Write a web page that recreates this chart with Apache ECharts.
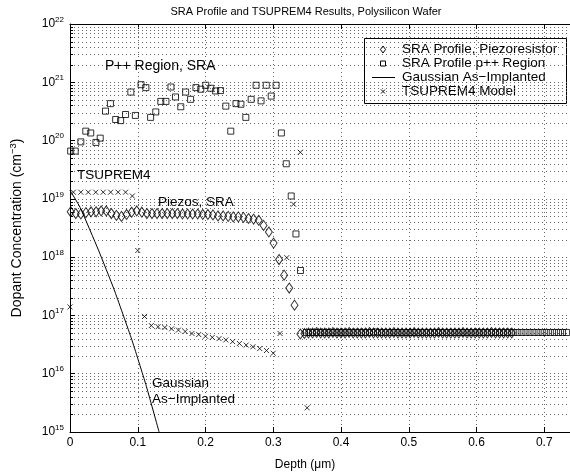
<!DOCTYPE html>
<html>
<head>
<meta charset="utf-8">
<script src="https://cdn.jsdelivr.net/npm/echarts@6/dist/echarts.min.js"></script>
<style>
  html, body { margin: 0; padding: 0; background: #fff; }
  #chart { width: 570px; height: 475px; }
</style>
</head>
<body>
<div id="chart"></div>
<script>
// SRA profile, piezoresistor (diamonds)
const piezoDepth = [0.001, 0.0085, 0.016, 0.0235, 0.031, 0.0385, 0.046, 0.0535, 0.061, 0.0685,
  0.076, 0.0835, 0.091, 0.0985, 0.106, 0.1135, 0.121, 0.1285, 0.136, 0.1435,
  0.151, 0.1585, 0.166, 0.1735, 0.181, 0.1885, 0.196, 0.2035, 0.211, 0.2185,
  0.226, 0.2335, 0.241, 0.2485, 0.256, 0.2635, 0.271, 0.2785,
  0.2857, 0.2935, 0.3005, 0.3086, 0.316, 0.3236, 0.3314]
const piezoConc = [6.0e18, 5.6e18, 5.5e18, 5.8e18, 6.0e18, 6.0e18, 6.2e18, 6.2e18, 5.6e18, 5.2e18,
  5.0e18, 5.4e18, 5.9e18, 6.2e18, 5.9e18, 5.6e18, 5.6e18, 5.6e18, 5.6e18, 5.6e18,
  5.6e18, 5.6e18, 5.5e18, 5.5e18, 5.5e18, 5.5e18, 5.4e18, 5.4e18, 5.3e18, 5.1e18,
  5.1e18, 5.0e18, 4.9e18, 4.9e18, 4.8e18, 4.6e18, 4.5e18, 4.3e18,
  3.5e18, 2.7e18, 1.74e18, 9.1e17, 4.9e17, 2.95e17, 1.5e17]
const piezoFlatDepth = [0.340, 0.346, 0.352, 0.358, 0.364, 0.370, 0.376, 0.382, 0.388, 0.394,
  0.400, 0.406, 0.412, 0.418, 0.424, 0.430, 0.436, 0.442, 0.448, 0.454,
  0.460, 0.466, 0.472, 0.478, 0.484, 0.490, 0.496, 0.502, 0.508, 0.514,
  0.520, 0.526, 0.532, 0.538, 0.544, 0.550, 0.556, 0.562, 0.568, 0.574,
  0.580, 0.586, 0.592, 0.598, 0.604, 0.610, 0.616, 0.622, 0.628, 0.634,
  0.640, 0.646, 0.652]
const piezoFlatConc = [4.8e16, 4.9e16, 5.0e16, 5.0e16, 5.1e16, 5.0e16, 5.0e16, 5.0e16, 5.1e16, 5.0e16,
  5.0e16, 5.0e16, 5.1e16, 5.0e16, 5.0e16, 5.0e16, 5.0e16, 5.1e16, 5.0e16, 5.0e16,
  5.0e16, 5.0e16, 5.0e16, 5.1e16, 5.0e16, 5.0e16, 5.0e16, 5.0e16, 5.1e16, 5.0e16,
  5.0e16, 5.0e16, 5.0e16, 5.0e16, 5.1e16, 5.0e16, 5.0e16, 5.0e16, 5.0e16, 5.0e16,
  5.1e16, 5.0e16, 5.0e16, 5.0e16, 5.0e16, 5.0e16, 5.0e16, 5.1e16, 5.0e16, 5.0e16,
  5.0e16, 5.0e16, 5.0e16]

// SRA profile, p++ region (squares)
const sqDepth = [0.001, 0.0077, 0.016, 0.0233, 0.0306, 0.0383, 0.0446, 0.0524, 0.0597, 0.0674,
  0.0747, 0.082, 0.0898, 0.0965, 0.1048, 0.112, 0.119, 0.1266, 0.134, 0.1416,
  0.149, 0.1557, 0.1635, 0.1707, 0.178, 0.1859, 0.193, 0.2004, 0.2077, 0.215,
  0.2222, 0.23, 0.2373, 0.245, 0.2523, 0.2595, 0.2674, 0.2747, 0.282, 0.2897,
  0.297, 0.3042, 0.312, 0.3192, 0.3265, 0.3335, 0.3402]
const sqConc = [6.6e19, 6.6e19, 9.5e19, 1.45e20, 1.35e20, 9.3e19, 1.1e20, 3.2e20, 4.3e20, 2.3e20,
  2.2e20, 2.8e20, 6.8e20, 2.7e20, 9.1e20, 8.1e20, 2.5e20, 3.1e20, 4.7e20, 4.7e20,
  8.3e20, 5.6e20, 3.8e20, 6.8e20, 5.1e20, 8.1e20, 7.6e20, 8.9e20, 7.9e20, 7.1e20,
  7.2e20, 3.9e20, 1.45e20, 4.3e20, 4.2e20, 2.5e20, 5.1e20, 8.9e20, 4.8e20, 8.9e20,
  5.8e20, 8.9e20, 1.35e20, 4.0e19, 1.12e19, 2.5e18, 5.9e17]
const sqFlatDepth = [0.349, 0.355, 0.361, 0.367, 0.373, 0.379, 0.385, 0.391, 0.397, 0.403,
  0.409, 0.415, 0.421, 0.427, 0.433, 0.439, 0.445, 0.451, 0.457, 0.463,
  0.469, 0.475, 0.481, 0.487, 0.493, 0.499, 0.505, 0.511, 0.517, 0.523,
  0.529, 0.535, 0.541, 0.547, 0.553, 0.559, 0.565, 0.571, 0.577, 0.583,
  0.589, 0.595, 0.601, 0.607, 0.613, 0.619, 0.625, 0.631, 0.637, 0.643,
  0.649, 0.655, 0.661, 0.667, 0.673, 0.679, 0.685, 0.691, 0.697, 0.703,
  0.709, 0.715, 0.721, 0.727, 0.733]
const sqFlatConc = [5.1e16, 5.1e16, 5.1e16, 5.1e16, 5.1e16, 5.1e16, 5.1e16, 5.1e16, 5.1e16, 5.1e16,
  5.1e16, 5.1e16, 5.1e16, 5.1e16, 5.1e16, 5.1e16, 5.1e16, 5.2e16, 5.1e16, 5.1e16,
  5.1e16, 5.1e16, 5.1e16, 5.1e16, 5.1e16, 5.1e16, 5.1e16, 5.1e16, 5.1e16, 5.1e16,
  5.1e16, 5.1e16, 5.1e16, 5.1e16, 5.1e16, 5.1e16, 5.1e16, 5.1e16, 5.1e16, 5.1e16,
  5.1e16, 5.1e16, 5.1e16, 5.1e16, 5.1e16, 5.1e16, 5.1e16, 5.1e16, 5.1e16, 5.1e16,
  5.1e16, 5.1e16, 5.1e16, 5.1e16, 5.1e16, 5.1e16, 5.1e16, 5.1e16, 5.1e16, 5.1e16,
  5.1e16, 5.1e16, 5.1e16, 5.1e16, 5.1e16]

// Gaussian as-implanted profile (line)
const gaussDepth = [0, 0.015, 0.042, 0.065, 0.091, 0.112, 0.1315]
const gaussConc = [1.4e19, 7.1e18, 1.32e18, 2.8e17, 3.9e16, 6.5e15, 1.0e15]

// TSUPREM4 model (x marks)
const tsDepth = [0, 0.005, 0.016, 0.027, 0.038, 0.049, 0.06, 0.071, 0.082, 0.092,
  0.10, 0.11, 0.12, 0.13, 0.14, 0.15, 0.16, 0.17, 0.18, 0.19,
  0.20, 0.21, 0.22, 0.23, 0.24, 0.25, 0.26, 0.27, 0.28, 0.29,
  0.30, 0.31, 0.32, 0.33, 0.34, 0.35]
const tsConc = [1.4e17, 1.3e19, 1.3e19, 1.3e19, 1.3e19, 1.3e19, 1.3e19, 1.3e19, 1.3e19, 1.12e19,
  1.3e18, 9.6e16, 6.7e16, 6.4e16, 6.2e16, 5.9e16, 5.6e16, 5.3e16, 4.9e16, 4.7e16,
  4.4e16, 4.2e16, 4.0e16, 3.8e16, 3.55e16, 3.3e16, 3.1e16, 2.9e16, 2.7e16, 2.5e16,
  2.25e16, 4.9e16, 9.8e17, 8.1e18, 6.3e19, 2.6e15]

const legendNames = ['SRA Profile, Piezoresistor', 'SRA Profile p++ Region', 'Gaussian As\u2212Implanted', 'TSUPREM4 Model']

const xMax = 0.738
const yMin = 1e15
const yMax = 1e22
const fontFam = '"Liberation Sans", Arial, Helvetica, sans-serif'

function pairs (xs, ys) {
  return xs.map((x, i) => [x, ys[i]])
}

// minor log grid values (2..9 per decade)
const minorVals = []
for (let e = 15; e < 22; e++) {
  for (let m = 2; m <= 9; m++) minorVals.push([0, m * Math.pow(10, e)])
}

// legend drawn as a MATLAB style box
function legendGraphic () {
  const bx = 364.5
  const by = 38.5
  const rowY = [49.5, 63.5, 77.5, 91.5]
  const cx = 383
  const kids = [
    { type: 'rect', shape: { x: bx, y: by, width: 202, height: 65 }, style: { fill: '#fff', stroke: '#000', lineWidth: 1 } },
    { type: 'polygon', shape: { points: [[cx, rowY[0] - 3.5], [cx + 2.6, rowY[0]], [cx, rowY[0] + 3.5], [cx - 2.6, rowY[0]]] }, style: { fill: 'none', stroke: '#000', lineWidth: 1 } },
    { type: 'rect', shape: { x: cx - 2.5, y: rowY[1] - 2.5, width: 5, height: 5 }, style: { fill: 'none', stroke: '#000', lineWidth: 1 } },
    { type: 'line', shape: { x1: 372, y1: rowY[2], x2: 395, y2: rowY[2] }, style: { stroke: '#000', lineWidth: 1 } },
    { type: 'line', shape: { x1: cx - 2, y1: rowY[3] - 2, x2: cx + 2, y2: rowY[3] + 2 }, style: { stroke: '#000', lineWidth: 1 } },
    { type: 'line', shape: { x1: cx + 2, y1: rowY[3] - 2, x2: cx - 2, y2: rowY[3] + 2 }, style: { stroke: '#000', lineWidth: 1 } }
  ]
  legendNames.forEach((n, i) => {
    kids.push({ type: 'text', x: 402, y: rowY[i], style: { text: n, font: '13.5px ' + fontFam, fill: '#000', verticalAlign: 'middle' } })
  })
  return { type: 'group', z: 100, children: kids }
}

function note (text, x, y, size) {
  return { type: 'text', x: x, y: y, z: 10, style: { text: text, font: (size || 13.5) + 'px ' + fontFam, fill: '#000', verticalAlign: 'middle' } }
}

const chart = echarts.init(document.getElementById('chart'), null, { renderer: 'canvas' })

const crossPath = 'path://M0,0L10,10M10,0L0,10'

chart.setOption({
  animation: false,
  backgroundColor: '#fff',
  textStyle: { fontFamily: fontFam, color: '#000' },
  grid: { left: 63, right: 0, top: 24, bottom: 43 },
  xAxis: [{
    type: 'value',
    min: 0,
    max: xMax,
    interval: 0.1,
    axisLine: { lineStyle: { color: '#000', width: 1 } },
    axisTick: { inside: true, length: 5, lineStyle: { color: '#000' } },
    axisLabel: {
      showMaxLabel: false,
      fontSize: 12,
      color: '#000',
      margin: 5,
      fontFamily: fontFam,
      formatter: v => (v === 0 ? '0' : v.toFixed(1))
    },
    splitLine: { show: true, lineStyle: { color: '#666', type: [1, 3], width: 1 } }
  }, {
    type: 'value',
    position: 'top',
    min: 0,
    max: xMax,
    interval: 0.1,
    axisLine: { lineStyle: { color: '#000', width: 1 } },
    axisTick: { inside: true, length: 5, lineStyle: { color: '#000' } },
    axisLabel: { show: false },
    splitLine: { show: false }
  }],
  yAxis: {
    type: 'log',
    logBase: 10,
    min: yMin,
    max: yMax,
    splitNumber: 7,
    name: 'Dopant Concentration (cm{sup|\u22123})',
    nameLocation: 'middle',
    nameGap: 44,
    nameTextStyle: {
      fontFamily: fontFam,
      fontSize: 14,
      color: '#000',
      rich: { sup: { fontSize: 9.5, padding: [0, 0, 8, 0], fontFamily: fontFam } }
    },
    axisLine: { show: true, lineStyle: { color: '#000', width: 1 } },
    axisTick: { inside: true, length: 5, lineStyle: { color: '#000' } },
    axisLabel: {
      color: '#000',
      margin: 6,
      formatter: v => '{b|10}{s|' + Math.round(Math.log10(v)) + '}',
      rich: {
        b: { fontSize: 12, fontFamily: fontFam, color: '#000' },
        s: { fontSize: 8, fontFamily: fontFam, color: '#000', padding: [0, 0, 9, 0] }
      }
    },
    splitLine: { show: true, lineStyle: { color: '#666', type: [1, 3], width: 1 } }
  },
  graphic: [
    { type: 'text', x: 306, y: 12, style: { text: 'SRA Profile and TSUPREM4 Results, Polysilicon Wafer', font: '11px ' + fontFam, fill: '#000', align: 'center', verticalAlign: 'middle' } },
    { type: 'text', x: 305, y: 465, style: { text: 'Depth (\u03bcm)', font: '12px ' + fontFam, fill: '#000', align: 'center', verticalAlign: 'middle' } },
    note('P++ Region, SRA', 105, 66, 14),
    note('TSUPREM4', 77, 175, 13.5),
    note('Piezos, SRA', 158, 202, 13.5),
    note('Gaussian', 152, 383, 13.5),
    note('As\u2212Implanted', 152, 399, 13.5),
    legendGraphic()
  ],
  series: [
    {
      name: 'minorGrid',
      type: 'custom',
      silent: true,
      z: 1,
      data: minorVals,
      encode: { x: 0, y: 1 },
      renderItem: function (params, api) {
        const cs = params.coordSys
        const p = api.coord([0, api.value(1)])
        const y = Math.round(p[1]) + 0.5
        return {
          type: 'group',
          children: [
            { type: 'line', shape: { x1: cs.x, y1: y, x2: cs.x + cs.width, y2: y }, style: { stroke: '#666', lineWidth: 1, lineDash: [1, 3] } },
            { type: 'line', shape: { x1: cs.x, y1: y, x2: cs.x + 3, y2: y }, style: { stroke: '#000', lineWidth: 1 } }
          ]
        }
      }
    },
    {
      name: legendNames[0],
      type: 'scatter',
      z: 5,
      symbol: 'diamond',
      symbolSize: [7, 10],
      symbolKeepAspect: false,
      itemStyle: { color: 'transparent', borderColor: '#000', borderWidth: 1 },
      data: pairs(piezoDepth, piezoConc).concat(pairs(piezoFlatDepth, piezoFlatConc))
    },
    {
      name: legendNames[1],
      type: 'scatter',
      z: 5,
      symbol: 'rect',
      symbolSize: 6,
      itemStyle: { color: 'transparent', borderColor: '#000', borderWidth: 1 },
      data: pairs(sqDepth, sqConc).concat(pairs(sqFlatDepth, sqFlatConc))
    },
    {
      name: legendNames[2],
      type: 'line',
      z: 5,
      symbol: 'none',
      smooth: 0.15,
      lineStyle: { color: '#000', width: 1 },
      itemStyle: { color: '#000' },
      data: pairs(gaussDepth, gaussConc)
    },
    {
      name: legendNames[3],
      type: 'scatter',
      z: 5,
      symbol: crossPath,
      symbolSize: 5,
      itemStyle: { color: 'transparent', borderColor: '#000', borderWidth: 1 },
      data: pairs(tsDepth, tsConc)
    }
  ]
})
</script>
</body>
</html>
